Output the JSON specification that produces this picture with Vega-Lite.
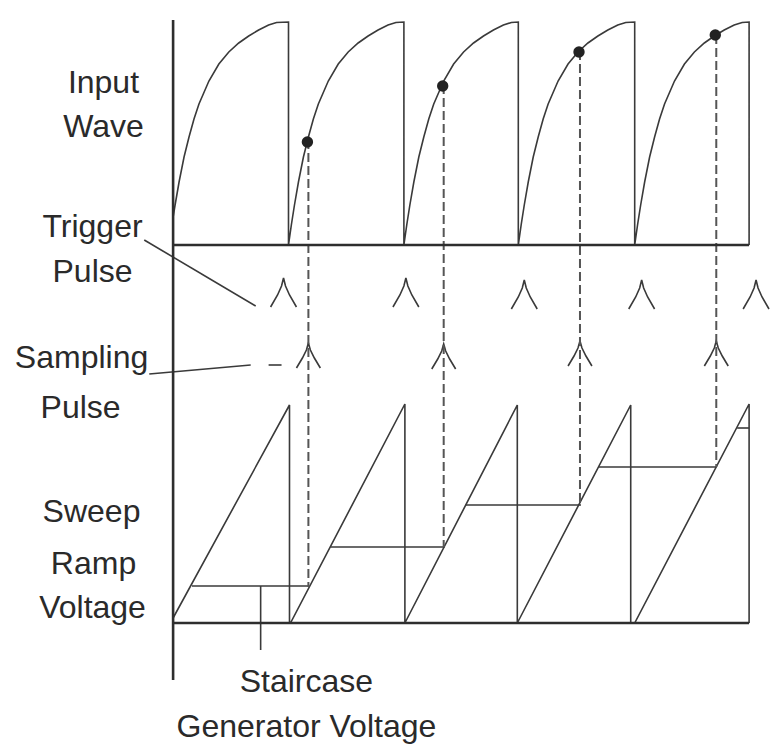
{
  "$schema": "https://vega.github.io/schema/vega-lite/v6.json",
  "width": 773,
  "height": 748,
  "padding": 0,
  "autosize": {"type": "fit", "contains": "padding"},
  "background": "white",
  "config": {"view": {"stroke": null}},
  "datasets": {
    "frame": [
      {"id": "axis", "o": 0, "x": 174, "y": 20},
      {"id": "axis", "o": 1, "x": 174, "y": 680},
      {"id": "base1", "o": 0, "x": 174, "y": 245},
      {"id": "base1", "o": 1, "x": 753, "y": 245},
      {"id": "base2", "o": 0, "x": 174, "y": 623},
      {"id": "base2", "o": 1, "x": 753, "y": 623}
    ],
    "traces": [
      {"id": "in", "o": 0, "x": 174, "y": 217},
      {"id": "in", "o": 1, "x": 176, "y": 205},
      {"id": "in", "o": 2, "x": 180, "y": 182},
      {"id": "in", "o": 3, "x": 185, "y": 157},
      {"id": "in", "o": 4, "x": 190, "y": 137},
      {"id": "in", "o": 5, "x": 195, "y": 119},
      {"id": "in", "o": 6, "x": 200, "y": 104},
      {"id": "in", "o": 7, "x": 210, "y": 81},
      {"id": "in", "o": 8, "x": 220, "y": 64},
      {"id": "in", "o": 9, "x": 230, "y": 52},
      {"id": "in", "o": 10, "x": 240, "y": 43},
      {"id": "in", "o": 11, "x": 250, "y": 36},
      {"id": "in", "o": 12, "x": 260, "y": 30},
      {"id": "in", "o": 13, "x": 270, "y": 25},
      {"id": "in", "o": 14, "x": 278, "y": 22.5},
      {"id": "in", "o": 15, "x": 290, "y": 22},
      {"id": "in", "o": 16, "x": 290, "y": 245},
      {"id": "in", "o": 17, "x": 293, "y": 224},
      {"id": "in", "o": 18, "x": 296, "y": 205},
      {"id": "in", "o": 19, "x": 300, "y": 182},
      {"id": "in", "o": 20, "x": 305, "y": 157},
      {"id": "in", "o": 21, "x": 310, "y": 137},
      {"id": "in", "o": 22, "x": 315, "y": 119},
      {"id": "in", "o": 23, "x": 320, "y": 104},
      {"id": "in", "o": 24, "x": 330, "y": 81},
      {"id": "in", "o": 25, "x": 340, "y": 64},
      {"id": "in", "o": 26, "x": 350, "y": 52},
      {"id": "in", "o": 27, "x": 360, "y": 43},
      {"id": "in", "o": 28, "x": 370, "y": 36},
      {"id": "in", "o": 29, "x": 380, "y": 30},
      {"id": "in", "o": 30, "x": 390, "y": 25},
      {"id": "in", "o": 31, "x": 398, "y": 22.5},
      {"id": "in", "o": 32, "x": 406, "y": 22},
      {"id": "in", "o": 33, "x": 406, "y": 245},
      {"id": "in", "o": 34, "x": 409, "y": 224},
      {"id": "in", "o": 35, "x": 412, "y": 205},
      {"id": "in", "o": 36, "x": 416, "y": 182},
      {"id": "in", "o": 37, "x": 421, "y": 157},
      {"id": "in", "o": 38, "x": 426, "y": 137},
      {"id": "in", "o": 39, "x": 431, "y": 119},
      {"id": "in", "o": 40, "x": 436, "y": 104},
      {"id": "in", "o": 41, "x": 446, "y": 81},
      {"id": "in", "o": 42, "x": 456, "y": 64},
      {"id": "in", "o": 43, "x": 466, "y": 52},
      {"id": "in", "o": 44, "x": 476, "y": 43},
      {"id": "in", "o": 45, "x": 486, "y": 36},
      {"id": "in", "o": 46, "x": 496, "y": 30},
      {"id": "in", "o": 47, "x": 506, "y": 25},
      {"id": "in", "o": 48, "x": 514, "y": 22.5},
      {"id": "in", "o": 49, "x": 521, "y": 22},
      {"id": "in", "o": 50, "x": 521, "y": 245},
      {"id": "in", "o": 51, "x": 524, "y": 224},
      {"id": "in", "o": 52, "x": 527, "y": 205},
      {"id": "in", "o": 53, "x": 531, "y": 182},
      {"id": "in", "o": 54, "x": 536, "y": 157},
      {"id": "in", "o": 55, "x": 541, "y": 137},
      {"id": "in", "o": 56, "x": 546, "y": 119},
      {"id": "in", "o": 57, "x": 551, "y": 104},
      {"id": "in", "o": 58, "x": 561, "y": 81},
      {"id": "in", "o": 59, "x": 571, "y": 64},
      {"id": "in", "o": 60, "x": 581, "y": 52},
      {"id": "in", "o": 61, "x": 591, "y": 43},
      {"id": "in", "o": 62, "x": 601, "y": 36},
      {"id": "in", "o": 63, "x": 611, "y": 30},
      {"id": "in", "o": 64, "x": 621, "y": 25},
      {"id": "in", "o": 65, "x": 629, "y": 22.5},
      {"id": "in", "o": 66, "x": 638, "y": 22},
      {"id": "in", "o": 67, "x": 638, "y": 245},
      {"id": "in", "o": 68, "x": 641, "y": 224},
      {"id": "in", "o": 69, "x": 644, "y": 205},
      {"id": "in", "o": 70, "x": 648, "y": 182},
      {"id": "in", "o": 71, "x": 653, "y": 157},
      {"id": "in", "o": 72, "x": 658, "y": 137},
      {"id": "in", "o": 73, "x": 663, "y": 119},
      {"id": "in", "o": 74, "x": 668, "y": 104},
      {"id": "in", "o": 75, "x": 678, "y": 81},
      {"id": "in", "o": 76, "x": 688, "y": 64},
      {"id": "in", "o": 77, "x": 698, "y": 52},
      {"id": "in", "o": 78, "x": 708, "y": 43},
      {"id": "in", "o": 79, "x": 718, "y": 36},
      {"id": "in", "o": 80, "x": 728, "y": 30},
      {"id": "in", "o": 81, "x": 738, "y": 25},
      {"id": "in", "o": 82, "x": 746, "y": 22.5},
      {"id": "in", "o": 83, "x": 753, "y": 22},
      {"id": "in", "o": 84, "x": 753, "y": 245},
      {"id": "ramp", "o": 0, "x": 174, "y": 618},
      {"id": "ramp", "o": 1, "x": 291, "y": 405},
      {"id": "ramp", "o": 2, "x": 291, "y": 623},
      {"id": "ramp", "o": 3, "x": 292, "y": 623},
      {"id": "ramp", "o": 4, "x": 407, "y": 404},
      {"id": "ramp", "o": 5, "x": 407, "y": 623},
      {"id": "ramp", "o": 6, "x": 520, "y": 405},
      {"id": "ramp", "o": 7, "x": 520, "y": 623},
      {"id": "ramp", "o": 8, "x": 634, "y": 405},
      {"id": "ramp", "o": 9, "x": 634, "y": 623},
      {"id": "ramp", "o": 10, "x": 638, "y": 623},
      {"id": "ramp", "o": 11, "x": 753, "y": 404},
      {"id": "ramp", "o": 12, "x": 753, "y": 623},
      {"id": "s1", "o": 0, "x": 193, "y": 586},
      {"id": "s1", "o": 1, "x": 311, "y": 586},
      {"id": "s2", "o": 0, "x": 332, "y": 547},
      {"id": "s2", "o": 1, "x": 447, "y": 547},
      {"id": "s3", "o": 0, "x": 468, "y": 505},
      {"id": "s3", "o": 1, "x": 584, "y": 505},
      {"id": "s4", "o": 0, "x": 602, "y": 467},
      {"id": "s4", "o": 1, "x": 720, "y": 467},
      {"id": "s5", "o": 0, "x": 741, "y": 428},
      {"id": "s5", "o": 1, "x": 753, "y": 428},
      {"id": "stairlead", "o": 0, "x": 262, "y": 586},
      {"id": "stairlead", "o": 1, "x": 262, "y": 650}
    ],
    "pulses": [
      {"id": "t1", "o": 0, "x": 272, "y": 307}, {"id": "t1", "o": 1, "x": 279, "y": 295}, {"id": "t1", "o": 2, "x": 283, "y": 286}, {"id": "t1", "o": 3, "x": 285, "y": 278}, {"id": "t1", "o": 4, "x": 287, "y": 286}, {"id": "t1", "o": 5, "x": 291, "y": 295}, {"id": "t1", "o": 6, "x": 298, "y": 307},
      {"id": "t2", "o": 0, "x": 395, "y": 307}, {"id": "t2", "o": 1, "x": 402, "y": 295}, {"id": "t2", "o": 2, "x": 406, "y": 286}, {"id": "t2", "o": 3, "x": 408, "y": 278}, {"id": "t2", "o": 4, "x": 410, "y": 286}, {"id": "t2", "o": 5, "x": 414, "y": 295}, {"id": "t2", "o": 6, "x": 421, "y": 307},
      {"id": "t3", "o": 0, "x": 514, "y": 309}, {"id": "t3", "o": 1, "x": 521, "y": 297}, {"id": "t3", "o": 2, "x": 525, "y": 288}, {"id": "t3", "o": 3, "x": 527, "y": 280}, {"id": "t3", "o": 4, "x": 529, "y": 288}, {"id": "t3", "o": 5, "x": 533, "y": 297}, {"id": "t3", "o": 6, "x": 540, "y": 309},
      {"id": "t4", "o": 0, "x": 632, "y": 309}, {"id": "t4", "o": 1, "x": 639, "y": 297}, {"id": "t4", "o": 2, "x": 643, "y": 288}, {"id": "t4", "o": 3, "x": 645, "y": 280}, {"id": "t4", "o": 4, "x": 647, "y": 288}, {"id": "t4", "o": 5, "x": 651, "y": 297}, {"id": "t4", "o": 6, "x": 658, "y": 309},
      {"id": "t5", "o": 0, "x": 747, "y": 309}, {"id": "t5", "o": 1, "x": 754, "y": 297}, {"id": "t5", "o": 2, "x": 758, "y": 288}, {"id": "t5", "o": 3, "x": 760, "y": 280}, {"id": "t5", "o": 4, "x": 762, "y": 288}, {"id": "t5", "o": 5, "x": 766, "y": 297}, {"id": "t5", "o": 6, "x": 773, "y": 309},
      {"id": "p1", "o": 0, "x": 298, "y": 368}, {"id": "p1", "o": 1, "x": 304, "y": 358}, {"id": "p1", "o": 2, "x": 308, "y": 350}, {"id": "p1", "o": 3, "x": 310, "y": 343}, {"id": "p1", "o": 4, "x": 312, "y": 350}, {"id": "p1", "o": 5, "x": 316, "y": 358}, {"id": "p1", "o": 6, "x": 322, "y": 368},
      {"id": "p2", "o": 0, "x": 434, "y": 369}, {"id": "p2", "o": 1, "x": 440, "y": 359}, {"id": "p2", "o": 2, "x": 444, "y": 351}, {"id": "p2", "o": 3, "x": 446, "y": 344}, {"id": "p2", "o": 4, "x": 448, "y": 351}, {"id": "p2", "o": 5, "x": 452, "y": 359}, {"id": "p2", "o": 6, "x": 458, "y": 369},
      {"id": "p3", "o": 0, "x": 571, "y": 366}, {"id": "p3", "o": 1, "x": 577, "y": 356}, {"id": "p3", "o": 2, "x": 581, "y": 348}, {"id": "p3", "o": 3, "x": 583, "y": 341}, {"id": "p3", "o": 4, "x": 585, "y": 348}, {"id": "p3", "o": 5, "x": 589, "y": 356}, {"id": "p3", "o": 6, "x": 595, "y": 366},
      {"id": "p4", "o": 0, "x": 708, "y": 366}, {"id": "p4", "o": 1, "x": 714, "y": 356}, {"id": "p4", "o": 2, "x": 718, "y": 348}, {"id": "p4", "o": 3, "x": 720, "y": 341}, {"id": "p4", "o": 4, "x": 722, "y": 348}, {"id": "p4", "o": 5, "x": 726, "y": 356}, {"id": "p4", "o": 6, "x": 732, "y": 366},
      {"id": "lt", "o": 0, "x": 145, "y": 240}, {"id": "lt", "o": 1, "x": 257, "y": 306},
      {"id": "ls", "o": 0, "x": 150, "y": 374}, {"id": "ls", "o": 1, "x": 252, "y": 365},
      {"id": "ld", "o": 0, "x": 270, "y": 365}, {"id": "ld", "o": 1, "x": 283, "y": 365}
    ],
    "dashes": [
      {"id": "d1", "o": 0, "x": 310, "y": 140}, {"id": "d1", "o": 1, "x": 310, "y": 587},
      {"id": "d2", "o": 0, "x": 446, "y": 85}, {"id": "d2", "o": 1, "x": 446, "y": 547},
      {"id": "d3", "o": 0, "x": 583, "y": 51}, {"id": "d3", "o": 1, "x": 583, "y": 505},
      {"id": "d4", "o": 0, "x": 720, "y": 35}, {"id": "d4", "o": 1, "x": 720, "y": 467}
    ],
    "dots": [
      {"x": 309, "y": 142}, {"x": 445, "y": 86}, {"x": 582, "y": 52}, {"x": 719, "y": 35}
    ],
    "labels": [
      {"t": "Input", "x": 104, "y": 93},
      {"t": "Wave", "x": 104, "y": 137},
      {"t": "Trigger", "x": 93, "y": 237},
      {"t": "Pulse", "x": 93, "y": 282},
      {"t": "Sampling", "x": 82, "y": 368},
      {"t": "Pulse", "x": 81, "y": 418},
      {"t": "Sweep", "x": 92, "y": 522},
      {"t": "Ramp", "x": 94, "y": 574},
      {"t": "Voltage", "x": 93, "y": 618},
      {"t": "Staircase", "x": 308, "y": 692},
      {"t": "Generator Voltage", "x": 308, "y": 737}
    ]
  },
  "encoding": {
    "x": {"field": "x", "type": "quantitative", "scale": {"domain": [0, 773], "nice": false, "zero": false}, "axis": null},
    "y": {"field": "y", "type": "quantitative", "scale": {"domain": [0, 748], "nice": false, "zero": false, "reverse": true}, "axis": null}
  },
  "layer": [
    {
      "data": {"name": "traces"},
      "mark": {"type": "line", "color": "#3a3a3a", "strokeWidth": 1.6, "strokeJoin": "miter", "clip": false},
      "encoding": {"detail": {"field": "id"}, "order": {"field": "o", "type": "quantitative"}}
    },
    {
      "data": {"name": "pulses"},
      "mark": {"type": "line", "color": "#3a3a3a", "strokeWidth": 1.6},
      "encoding": {"detail": {"field": "id"}, "order": {"field": "o", "type": "quantitative"}}
    },
    {
      "data": {"name": "dashes"},
      "mark": {"type": "line", "color": "#555555", "strokeWidth": 2, "strokeDash": [9, 4]},
      "encoding": {"detail": {"field": "id"}, "order": {"field": "o", "type": "quantitative"}}
    },
    {
      "data": {"name": "frame"},
      "mark": {"type": "line", "color": "#2e2e2e", "strokeWidth": 2.6},
      "encoding": {"detail": {"field": "id"}, "order": {"field": "o", "type": "quantitative"}}
    },
    {
      "data": {"name": "dots"},
      "mark": {"type": "point", "filled": true, "color": "#222222", "size": 130, "opacity": 1}
    },
    {
      "data": {"name": "labels"},
      "mark": {"type": "text", "align": "center", "baseline": "alphabetic", "fontSize": 32, "font": "'Liberation Sans', Arial, sans-serif", "color": "#2a2a2a"},
      "encoding": {"text": {"field": "t"}}
    }
  ]
}
